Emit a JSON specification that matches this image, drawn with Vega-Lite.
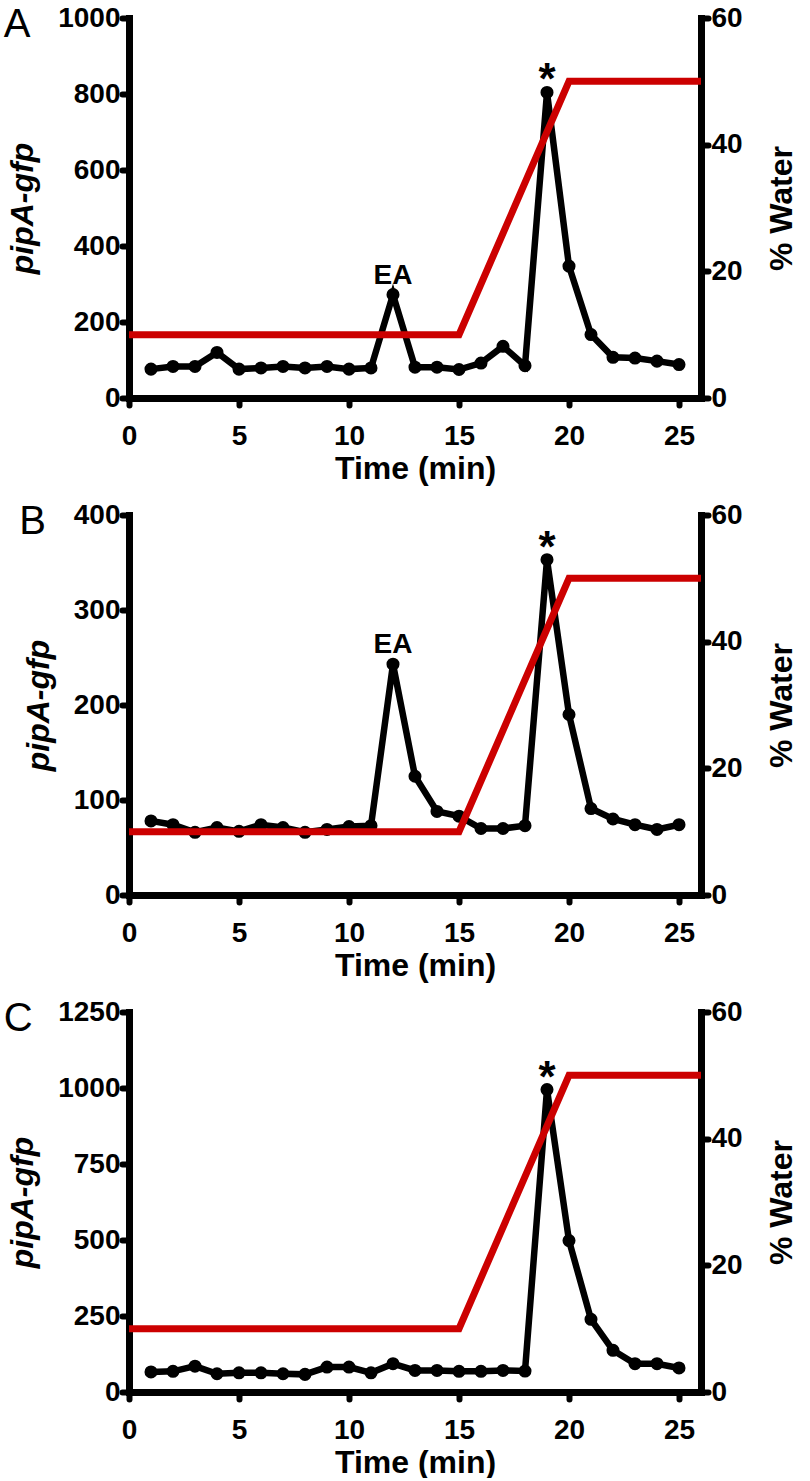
{
  "$schema": "https://vega.github.io/schema/vega-lite/v6.json",
  "background": "white",
  "padding": {"left": 3, "top": 4, "right": 0, "bottom": 0},
  "spacing": 17,
  "config": {
    "view": {"stroke": null},
    "font": "Liberation Sans",
    "axis": {
      "grid": false,
      "domainColor": "black",
      "domainWidth": 7,
      "domainCap": "square",
      "tickColor": "black",
      "tickWidth": 6,
      "tickSize": 7,
      "tickCap": "round",
      "labelFont": "Liberation Sans",
      "labelFontWeight": "bold",
      "labelFontSize": 28,
      "labelColor": "black",
      "format": "d",
      "titleFont": "Liberation Sans",
      "titleFontWeight": "bold",
      "titleFontSize": 32,
      "titleColor": "black"
    },
    "axisX": {"labelPadding": 17, "titlePadding": 3, "labelFlush": false},
    "axisLeft": {"labelPadding": 2, "titlePadding": 18},
    "axisRight": {"labelPadding": 3, "titlePadding": 24, "titleAngle": 270, "titleBaseline": "top"},
    "title": {"font": "Liberation Sans", "fontWeight": "normal", "fontSize": 40, "color": "black", "anchor": "start", "frame": "bounds", "offset": -41, "dx": -3}
  },
  "vconcat": [
    {
      "width": 572,
      "height": 380,
      "title": {"text": "A"},
      "layer": [
        {
          "data": {"values": [
            {"t": 1, "v": 76, "lab": ""}, {"t": 2, "v": 83, "lab": ""}, {"t": 3, "v": 83, "lab": ""},
            {"t": 4, "v": 120, "lab": ""}, {"t": 5, "v": 76, "lab": ""}, {"t": 6, "v": 79, "lab": ""},
            {"t": 7, "v": 83, "lab": ""}, {"t": 8, "v": 79, "lab": ""}, {"t": 9, "v": 83, "lab": ""},
            {"t": 10, "v": 76, "lab": ""}, {"t": 11, "v": 79, "lab": ""}, {"t": 12, "v": 272, "lab": "EA"},
            {"t": 13, "v": 81, "lab": ""}, {"t": 14, "v": 81, "lab": ""}, {"t": 15, "v": 75, "lab": ""},
            {"t": 16, "v": 92, "lab": ""}, {"t": 17, "v": 136, "lab": ""}, {"t": 18, "v": 85, "lab": ""},
            {"t": 19, "v": 804, "lab": "*"}, {"t": 20, "v": 347, "lab": ""}, {"t": 21, "v": 167, "lab": ""},
            {"t": 22, "v": 107, "lab": ""}, {"t": 23, "v": 105, "lab": ""}, {"t": 24, "v": 97, "lab": ""},
            {"t": 25, "v": 88, "lab": ""}
          ]},
          "encoding": {
            "x": {"field": "t", "type": "quantitative", "scale": {"domain": [0, 26], "nice": false}, "axis": {"values": [0, 5, 10, 15, 20, 25], "title": "Time (min)"}},
            "y": {"field": "v", "type": "quantitative", "scale": {"domain": [0, 1000], "nice": false}, "axis": {"orient": "left", "values": [0, 200, 400, 600, 800, 1000], "title": "pipA-gfp", "titleFontStyle": "italic"}}
          },
          "layer": [
            {"mark": {"type": "line", "color": "black", "strokeWidth": 6.5, "point": {"filled": true, "size": 170, "color": "black", "opacity": 1}}},
            {"transform": [{"filter": "datum.lab == 'EA'"}], "mark": {"type": "text", "fontSize": 28, "fontWeight": "bold", "baseline": "alphabetic", "dy": -11, "color": "black"}, "encoding": {"text": {"field": "lab"}}},
            {"transform": [{"filter": "datum.lab == '*'"}], "mark": {"type": "text", "fontSize": 44, "fontWeight": "bold", "baseline": "alphabetic", "dy": 2, "color": "black"}, "encoding": {"text": {"field": "lab"}}}
          ]
        },
        {
          "data": {"values": [{"t": 0, "w": 10}, {"t": 15, "w": 10}, {"t": 20, "w": 50}, {"t": 26, "w": 50}]},
          "mark": {"type": "line", "color": "#cc0000", "strokeWidth": 7},
          "encoding": {
            "x": {"field": "t", "type": "quantitative"},
            "y": {"field": "w", "type": "quantitative", "scale": {"domain": [0, 60], "nice": false}, "axis": {"orient": "right", "values": [0, 20, 40, 60], "title": "% Water"}}
          }
        }
      ],
      "resolve": {"scale": {"y": "independent"}}
    },
    {
      "width": 572,
      "height": 380,
      "title": {"text": "B"},
      "layer": [
        {
          "data": {"values": [
            {"t": 1, "v": 78, "lab": ""}, {"t": 2, "v": 74, "lab": ""}, {"t": 3, "v": 66, "lab": ""},
            {"t": 4, "v": 71, "lab": ""}, {"t": 5, "v": 67, "lab": ""}, {"t": 6, "v": 74, "lab": ""},
            {"t": 7, "v": 71, "lab": ""}, {"t": 8, "v": 66, "lab": ""}, {"t": 9, "v": 69, "lab": ""},
            {"t": 10, "v": 72, "lab": ""}, {"t": 11, "v": 73, "lab": ""}, {"t": 12, "v": 243, "lab": "EA"},
            {"t": 13, "v": 125, "lab": ""}, {"t": 14, "v": 88, "lab": ""}, {"t": 15, "v": 83, "lab": ""},
            {"t": 16, "v": 70, "lab": ""}, {"t": 17, "v": 70, "lab": ""}, {"t": 18, "v": 73, "lab": ""},
            {"t": 19, "v": 353, "lab": "*"}, {"t": 20, "v": 190, "lab": ""}, {"t": 21, "v": 91, "lab": ""},
            {"t": 22, "v": 80, "lab": ""}, {"t": 23, "v": 74, "lab": ""}, {"t": 24, "v": 69, "lab": ""},
            {"t": 25, "v": 74, "lab": ""}
          ]},
          "encoding": {
            "x": {"field": "t", "type": "quantitative", "scale": {"domain": [0, 26], "nice": false}, "axis": {"values": [0, 5, 10, 15, 20, 25], "title": "Time (min)"}},
            "y": {"field": "v", "type": "quantitative", "scale": {"domain": [0, 400], "nice": false}, "axis": {"orient": "left", "values": [0, 100, 200, 300, 400], "title": "pipA-gfp", "titleFontStyle": "italic"}}
          },
          "layer": [
            {"mark": {"type": "line", "color": "black", "strokeWidth": 6.5, "point": {"filled": true, "size": 170, "color": "black", "opacity": 1}}},
            {"transform": [{"filter": "datum.lab == 'EA'"}], "mark": {"type": "text", "fontSize": 28, "fontWeight": "bold", "baseline": "alphabetic", "dy": -11, "color": "black"}, "encoding": {"text": {"field": "lab"}}},
            {"transform": [{"filter": "datum.lab == '*'"}], "mark": {"type": "text", "fontSize": 44, "fontWeight": "bold", "baseline": "alphabetic", "dy": 2, "color": "black"}, "encoding": {"text": {"field": "lab"}}}
          ]
        },
        {
          "data": {"values": [{"t": 0, "w": 10}, {"t": 15, "w": 10}, {"t": 20, "w": 50}, {"t": 26, "w": 50}]},
          "mark": {"type": "line", "color": "#cc0000", "strokeWidth": 7},
          "encoding": {
            "x": {"field": "t", "type": "quantitative"},
            "y": {"field": "w", "type": "quantitative", "scale": {"domain": [0, 60], "nice": false}, "axis": {"orient": "right", "values": [0, 20, 40, 60], "title": "% Water"}}
          }
        }
      ],
      "resolve": {"scale": {"y": "independent"}}
    },
    {
      "width": 572,
      "height": 380,
      "title": {"text": "C"},
      "layer": [
        {
          "data": {"values": [
            {"t": 1, "v": 66, "lab": ""}, {"t": 2, "v": 68, "lab": ""}, {"t": 3, "v": 85, "lab": ""},
            {"t": 4, "v": 60, "lab": ""}, {"t": 5, "v": 63, "lab": ""}, {"t": 6, "v": 63, "lab": ""},
            {"t": 7, "v": 60, "lab": ""}, {"t": 8, "v": 58, "lab": ""}, {"t": 9, "v": 82, "lab": ""},
            {"t": 10, "v": 82, "lab": ""}, {"t": 11, "v": 63, "lab": ""}, {"t": 12, "v": 93, "lab": ""},
            {"t": 13, "v": 71, "lab": ""}, {"t": 14, "v": 71, "lab": ""}, {"t": 15, "v": 68, "lab": ""},
            {"t": 16, "v": 68, "lab": ""}, {"t": 17, "v": 71, "lab": ""}, {"t": 18, "v": 69, "lab": ""},
            {"t": 19, "v": 995, "lab": "*"}, {"t": 20, "v": 498, "lab": ""}, {"t": 21, "v": 239, "lab": ""},
            {"t": 22, "v": 137, "lab": ""}, {"t": 23, "v": 93, "lab": ""}, {"t": 24, "v": 93, "lab": ""},
            {"t": 25, "v": 79, "lab": ""}
          ]},
          "encoding": {
            "x": {"field": "t", "type": "quantitative", "scale": {"domain": [0, 26], "nice": false}, "axis": {"values": [0, 5, 10, 15, 20, 25], "title": "Time (min)"}},
            "y": {"field": "v", "type": "quantitative", "scale": {"domain": [0, 1250], "nice": false}, "axis": {"orient": "left", "values": [0, 250, 500, 750, 1000, 1250], "title": "pipA-gfp", "titleFontStyle": "italic"}}
          },
          "layer": [
            {"mark": {"type": "line", "color": "black", "strokeWidth": 6.5, "point": {"filled": true, "size": 170, "color": "black", "opacity": 1}}},
            {"transform": [{"filter": "datum.lab == '*'"}], "mark": {"type": "text", "fontSize": 44, "fontWeight": "bold", "baseline": "alphabetic", "dy": 2, "color": "black"}, "encoding": {"text": {"field": "lab"}}}
          ]
        },
        {
          "data": {"values": [{"t": 0, "w": 10}, {"t": 15, "w": 10}, {"t": 20, "w": 50}, {"t": 26, "w": 50}]},
          "mark": {"type": "line", "color": "#cc0000", "strokeWidth": 7},
          "encoding": {
            "x": {"field": "t", "type": "quantitative"},
            "y": {"field": "w", "type": "quantitative", "scale": {"domain": [0, 60], "nice": false}, "axis": {"orient": "right", "values": [0, 20, 40, 60], "title": "% Water"}}
          }
        }
      ],
      "resolve": {"scale": {"y": "independent"}}
    }
  ]
}
